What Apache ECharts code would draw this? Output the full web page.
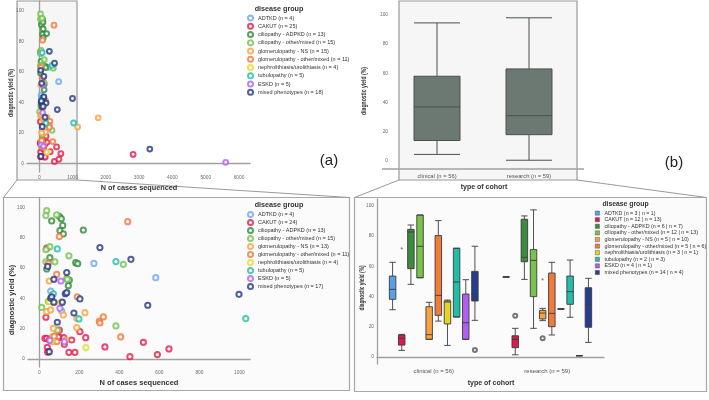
<!DOCTYPE html>
<html><head><meta charset="utf-8">
<script src="https://cdn.jsdelivr.net/npm/echarts@6/dist/echarts.min.js"></script>
<style>html,body{margin:0;padding:0;background:#fff}#c{width:709px;height:400px}</style>
</head><body><div id="c"></div>
<script>
// ---------- data ----------
const groups = ['ADTKD','CAKUT','ciliopathy - ADPKD','ciliopathy - other/mixed','glomerulopathy - NS','glomerulopathy - other/mixed','nephrolithiasis/urolithiasis','tubulopathy','ESKD','mixed phenotypes'];
const colors = ['#6aa7f2','#e4194b','#2f8a37','#70c34a','#f9a33d','#f2773a','#e7d925','#20bfa9','#b062f0','#23387f'];
const boxColors = ['#5b9fe8','#dc1b4c','#3b8c3c','#79c24c','#f6a33f','#f27b3b','#e5d523','#22bfa6','#b05ef0','#263c8c'];
const topCounts = [4,25,13,15,15,11,4,5,5,18];
const bottomCounts = [4,24,13,15,13,11,4,5,5,17];
const clinicalCounts = [3,12,6,12,5,5,3,2,4,14];
const researchCounts = [1,13,7,13,10,6,1,3,1,4];

// [N of cases sequenced, diagnostic yield %]
const adtkdPts = [[273,63],[582,53.6],[57,44.8],[112,31.6]];
const cakutPts = [[37,73],[33,27.5],[28,13.6],[37,13.6],[50,12.5],[40,7.7],[45,4.8],[100,19],[100,14.2],[122,14],[125,9.7],[162,12.5],[203,18],[232,14],[148,4.4],[178,4.4],[328,7.9],[453,1.5],[520,11],[590,2.9],[648,6.6],[95,14.5],[60,12],[42,4.5],[2820,6.1]];
const adpkdPts = [[62,91],[100,94],[110,92.5],[117,88],[103,84.6],[120,82.4],[220,85],[53,66.8],[37,59.3],[182,63.5],[192,62.8],[145,48.3],[150,52]];
const ciliOtherPts = [[37,97.8],[33,94.5],[87,95],[53,74],[33,72],[33,64],[78,64],[148,68],[137,53],[12,34],[90,19],[383,21.8],[420,62.4],[140,52.5],[45,38]];
const nsPts = [[228,30.5],[187,20.7],[70,20.2],[67,14.7],[67,11.4],[133,12.5],[37,31.2],[57,32.3],[50,51.4],[70,37.4],[120,29],[187,26.8],[110,37],[1152,24],[1770,30]];
const glomOtherPts = [[442,90.5],[100,80.7],[45,63],[87,55.8],[190,41],[320,27.7],[300,25],[303,23.7],[407,14.5],[75,15],[88,11.5]];
const nephroPts = [[103,36.7],[233,7.5],[50,37.8],[62,12]];
const tubuloPts = [[90,72.5],[383,64.2],[70,43],[198,26.4],[1032,26.6]];
const eskdPts = [[108,51.4],[103,33.4],[53,12.3],[125,11.4],[5600,0.9]];
const mixedPts = [[303,73.4],[458,65.7],[42,61],[137,57],[73,52.5],[130,43],[137,43.7],[203,39.6],[57,40],[62,41],[73,37.4],[115,37.4],[173,30.3],[90,24.2],[542,35.4],[50,4.8],[998,42.6],[3320,9.6]];
const scatterData = [adtkdPts,cakutPts,adpkdPts,ciliOtherPts,nsPts,glomOtherPts,nephroPts,tubuloPts,eskdPts,mixedPts];

const cohortsTop = ['clinical (n = 56)','research (n = 59)'];
// [min, Q1, median, Q3, max]
const overallBox = [[4.5,14,37,58,94.5],[0.5,18,31,63,98]];

const boxAdtkd = [[31.3,38.2,44.8,53.6,62.7],[53,53,53,53,53]];
const boxCakut = [[4.4,7.9,12.4,14.6,15],[1.5,6.2,11.7,14.1,19]];
const boxAdpkd = [[48.1,58.5,82.8,84.5,87.4],[51.4,63.1,66,91.2,93.4]];
const boxCiliOther = [[52.5,52.5,73.3,94,94],[19,40,64,71.1,97.4]];
const boxNs = [[11.7,11.7,14.8,33.3,36.2],[24.1,25.2,29.1,30.9,32.2]];
const boxGlomOther = [[23.8,27.6,40.8,80.4,90.3],[14.6,20.1,28.9,55.6,62.7]];
const boxNephro = [[7.7,21.9,36.4,37.1,37.7],[31.8,31.8,31.8,31.8,31.8]];
const boxTubulo = [[26.5,26.5,49.7,72,72],[26.3,34.9,43.3,53.6,64.2]];
const boxEskd = [[11.7,11.7,22.7,41.7,51.2],[0.9,0.9,0.9,0.9,0.9]];
const boxMixed = [[24.3,37.1,41.5,56.7,73.3],[9.7,19.7,34.9,45.9,52.1]];
const groupBoxes = [boxAdtkd,boxCakut,boxAdpkd,boxCiliOther,boxNs,boxGlomOther,boxNephro,boxTubulo,boxEskd,boxMixed];

const outlierGroup = [1,9,1,4,4];
const outlierCohort = [0,0,1,1,1];
const outlierValue = [72.4,4.6,27.4,51.5,12.4];
const outlierMark = ['*','o','o','*','o'];

const yTicks = [0,20,40,60,80,100];
const xTicksTop = [0,1000,2000,3000,4000,5000,6000];
const xTicksBottom = [0,200,400,600,800,1000];

// ---------- chart ----------
const FF = '"Liberation Sans", Arial, sans-serif';
const chart = echarts.init(document.getElementById('c'), null, {renderer:'canvas'});

const lblStyle = {fontSize:4.8, color:'#6b6b6b', fontFamily:FF, formatter:(v)=>String(v)};
function valAxis(grid, min, max, ticks, extra){
  return Object.assign({type:'value', gridIndex:grid, min:min, max:max,
    splitLine:{show:false}, axisTick:{show:false},
    axisLine:{show:true, lineStyle:{color:'#a0a0a0', width:1.3}},
    axisLabel:Object.assign({customValues:ticks, margin:3}, lblStyle)}, extra||{});
}

const gridBR = {left:377, right:105, top:199, bottom:36};
const bwBR = (709-gridBR.left-gridBR.right)/2;
const availBR = bwBR*0.8-2;
const gapBR = availBR/groups.length*0.3;
const wBR = (availBR-gapBR*(groups.length-1))/groups.length;
function boxOffsetFrac(i){ return (wBR/2-availBR/2+i*(gapBR+wBR))/bwBR; }

const series = [];
groups.forEach((g,i)=>{
  series.push({type:'scatter', name:g+' (n = '+topCounts[i]+')', xAxisIndex:0, yAxisIndex:0,
    data:scatterData[i], symbol:'emptyCircle', symbolSize:4.8, clip:true,
    itemStyle:{color:colors[i], borderWidth:1.3}, z:3});
});
groups.forEach((g,i)=>{
  series.push({type:'scatter', name:g+' (n = '+bottomCounts[i]+')', xAxisIndex:1, yAxisIndex:1,
    data:scatterData[i], symbol:'emptyCircle', symbolSize:5.2, clip:true,
    itemStyle:{color:colors[i], borderWidth:1.4}, z:3});
});
series.push({type:'boxplot', name:'all', xAxisIndex:2, yAxisIndex:2, data:overallBox, boxWidth:[46,46],
  itemStyle:{color:'#6c7973', borderColor:'#48524d', borderWidth:1}});
const boxNames = groups.map((g,i)=>g+' (n = '+clinicalCounts[i]+' | n = '+researchCounts[i]+')');
groups.forEach((g,i)=>{
  series.push({type:'boxplot', name:boxNames[i], xAxisIndex:3, yAxisIndex:3, data:groupBoxes[i],
    boxWidth:[5,7], itemStyle:{color:boxColors[i], borderColor:'#3c3c3c', borderWidth:0.9}});
});
const circOut = [], starOut = [];
outlierValue.forEach((v,k)=>{
  const pt = [outlierCohort[k]+0.5+boxOffsetFrac(outlierGroup[k]), v];
  (outlierMark[k]==='*'?starOut:circOut).push(pt);
});
series.push({type:'scatter', name:'outliers', xAxisIndex:4, yAxisIndex:3, data:circOut,
  symbol:'emptyCircle', symbolSize:4, itemStyle:{color:'#555', borderWidth:1}, z:4});
series.push({type:'scatter', name:'extremes', xAxisIndex:4, yAxisIndex:3, data:starOut,
  symbol:'circle', symbolSize:0.1, itemStyle:{color:'#555'}, z:4,
  label:{show:true, position:'inside', formatter:'*', fontSize:8, color:'#444', fontFamily:FF, offset:[0,2]}});

function legendCfg(data, left, top, gap, icon, extra){
  return Object.assign({data:data, orient:'vertical', left:left, top:top, padding:0,
    itemGap:gap, itemWidth:5, itemHeight:5, icon:icon, selectedMode:false,
    textStyle:{fontSize:5.5, lineHeight:5.6, color:'#333', fontFamily:FF}}, extra||{});
}

function txt(t, x, y, size, opts){
  opts = opts||{};
  return {type:'text', x:x, y:y, rotation:opts.rot||0, scaleX:opts.sx||1, scaleY:opts.sy||1,
    style:{text:t, fontSize:size, fontWeight:opts.bold?'bold':'normal', fill:opts.color||'#333',
      fontFamily:FF, textAlign:'center', textVerticalAlign:'middle'}, z:20};
}

const option = {
  animation:false,
  backgroundColor:'#ffffff',
  grid:[
    {left:27, right:459, top:1, bottom:228},
    {left:28, right:459, top:198, bottom:33},
    {left:391, right:134, top:1, bottom:231},
    gridBR
  ],
  xAxis:[
    valAxis(0, -369, 6330, xTicksTop),
    valAxis(1, -56.5, 1053, xTicksBottom),
    {type:'category', gridIndex:2, data:cohortsTop, axisLine:{show:false}, axisTick:{show:false},
      axisLabel:{fontSize:5.8, color:'#555', margin:4, fontFamily:FF}},
    {type:'category', gridIndex:3, data:cohortsTop, axisLine:{show:true, lineStyle:{color:'#a0a0a0', width:1.3}}, axisTick:{show:false},
      axisLabel:{fontSize:6, color:'#555', margin:4, fontFamily:FF}},
    {type:'value', gridIndex:3, min:0, max:2, show:false}
  ],
  yAxis:[
    valAxis(0, -5.4, 106.3, yTicks),
    valAxis(1, -5.3, 106.1, yTicks),
    valAxis(2, -5.5, 109.5, yTicks, {axisLine:{show:false}}),
    valAxis(3, -4.6, 104.6, yTicks)
  ],
  legend:[
    legendCfg(groups.map((g,i)=>g+' (n = '+topCounts[i]+')'), 247, 14.6, 1.25, 'emptyCircle'),
    legendCfg(groups.map((g,i)=>g+' (n = '+bottomCounts[i]+')'), 247, 211, 1.0, 'emptyCircle'),
    legendCfg(boxNames.map((n,i)=>({name:n, itemStyle:{color:boxColors[i], borderColor:'#555', borderWidth:0.5}})),
      595, 210.3, 1.0, 'rect', {itemWidth:4.2, itemHeight:4.2,
      textStyle:{fontSize:5.3, lineHeight:5.6, color:'#333', fontFamily:FF}})
  ],
  graphic:[
    {type:'rect', shape:{x:3.5, y:197.5, width:346, height:193}, style:{fill:'#fbfbfb', stroke:'#a8a8a8', lineWidth:1.2}, z:-10},
    {type:'rect', shape:{x:354.5, y:197.5, width:352, height:194}, style:{fill:'#fbfbfb', stroke:'#a8a8a8', lineWidth:1.2}, z:-10},
    {type:'rect', shape:{x:17, y:1, width:60, height:179}, style:{fill:'#f6f6f6', stroke:'#9a9a9a', lineWidth:1.2}, z:-9},
    {type:'rect', shape:{x:399, y:1, width:178, height:179}, style:{fill:'#f6f6f6', stroke:'#9a9a9a', lineWidth:1.2}, z:-9},
    {type:'line', shape:{x1:17, y1:180, x2:3.5, y2:197.5}, style:{stroke:'#9a9a9a', lineWidth:1}, z:-8},
    {type:'line', shape:{x1:77, y1:180, x2:349.5, y2:197.5}, style:{stroke:'#9a9a9a', lineWidth:1}, z:-8},
    {type:'line', shape:{x1:399, y1:180, x2:354.5, y2:197.5}, style:{stroke:'#9a9a9a', lineWidth:1}, z:-8},
    {type:'line', shape:{x1:577, y1:180, x2:706.5, y2:197.5}, style:{stroke:'#9a9a9a', lineWidth:1}, z:-8},
    {type:'line', shape:{x1:382, y1:169, x2:584, y2:169}, style:{stroke:'#a0a0a0', lineWidth:1.3}, z:-1},
    txt('diagnostic yield (%)', 10.5, 93, 7.5, {bold:true, rot:Math.PI/2, sx:0.68}),
    txt('N of cases sequenced', 139, 188, 7.3, {bold:true}),
    txt('diagnostic yield (%)', 12, 300, 7.5, {bold:true, rot:Math.PI/2}),
    txt('N of cases sequenced', 139, 383, 7.5, {bold:true}),
    txt('diagnostic yield (%)', 364, 91, 7.5, {bold:true, rot:Math.PI/2, sx:0.68}),
    txt('type of cohort', 484, 187, 7, {bold:true}),
    txt('diagnostic yield (%)', 362, 288, 7.5, {bold:true, rot:Math.PI/2, sx:0.64}),
    txt('type of cohort', 491, 383, 7, {bold:true}),
    txt('disease group', 279, 9.5, 7.2, {bold:true}),
    txt('disease group', 279, 205, 7.2, {bold:true}),
    txt('disease group', 625.5, 204, 6.8, {bold:true}),
    txt('(a)', 329, 161, 15, {color:'#222'}),
    txt('(b)', 674, 163, 15, {color:'#222'})
  ],
  series:series
};
chart.setOption(option);
</script></body></html>
